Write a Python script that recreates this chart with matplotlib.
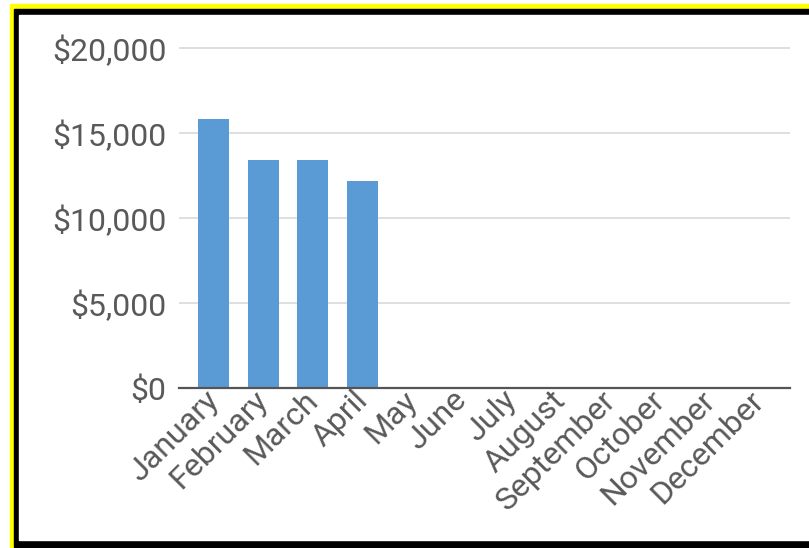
import numpy as np
import matplotlib.pyplot as plt
import matplotlib.transforms as mtransforms
from matplotlib.patches import Rectangle

months = ['January', 'February', 'March', 'April', 'May', 'June', 'July',
          'August', 'September', 'October', 'November', 'December']
sales = [15800, 13400, 13400, 12150, 0, 0, 0, 0, 0, 0, 0, 0]
yticks = [0, 5000, 10000, 15000, 20000]
ytick_labels = ['$0', '$5,000', '$10,000', '$15,000', '$20,000']

W, H = 809, 548
fig = plt.figure(figsize=(W / 100, H / 100), dpi=100)
fig.patch.set_facecolor('white')

def px_rect(x0, y0, x1, y1, color):
    # rectangle in pixel coords measured from the top-left corner
    fig.patches.append(Rectangle((x0 / W, 1 - y1 / H), (x1 - x0) / W, (y1 - y0) / H,
                                 transform=fig.transFigure, color=color, zorder=-10))

px_rect(10, 4, W + 5, H + 5, '#ffff00')
px_rect(14, 9, W + 5, 547, '#000000')
px_rect(19, 15, W + 5, 540, '#ffffff')

ax_l, ax_r, ax_b, ax_t = 179, 790, 388, 39.5
ax = fig.add_axes([ax_l / W, 1 - ax_b / H, (ax_r - ax_l) / W, (ax_b - ax_t) / H])
ax.set_zorder(5)
ax.set_facecolor('none')

x = np.arange(len(months))
ax.bar(x, sales, width=0.625, color='#5b9bd5', zorder=3)

ax.set_xlim(-0.696, 11.625)
ax.set_ylim(0, 20500)
ax.set_yticks(yticks)
ax.set_yticklabels(ytick_labels)
ax.set_xticks(x)
ax.set_xticklabels(months, rotation=45, ha='right', va='top')

for s in ['top', 'right', 'left']:
    ax.spines[s].set_visible(False)
ax.spines['bottom'].set_color('#555555')
ax.spines['bottom'].set_linewidth(1.6)
ax.spines['bottom'].set_zorder(4)

ax.grid(axis='y', color='#d9d9d9', linewidth=1.2, zorder=0)
ax.tick_params(axis='both', length=0, colors='#595959', labelsize=23)
ax.tick_params(axis='y', pad=9)
ax.tick_params(axis='x', pad=1)

shift = mtransforms.ScaledTranslation(11 / 100, 4 / 100, fig.dpi_scale_trans)
for lab in ax.get_xticklabels():
    lab.set_transform(lab.get_transform() + shift)
for lab in ax.get_xticklabels() + ax.get_yticklabels():
    lab.set_fontfamily('Roboto')
    lab.set_color('#595959')

fig.savefig('out.png', dpi=100)
